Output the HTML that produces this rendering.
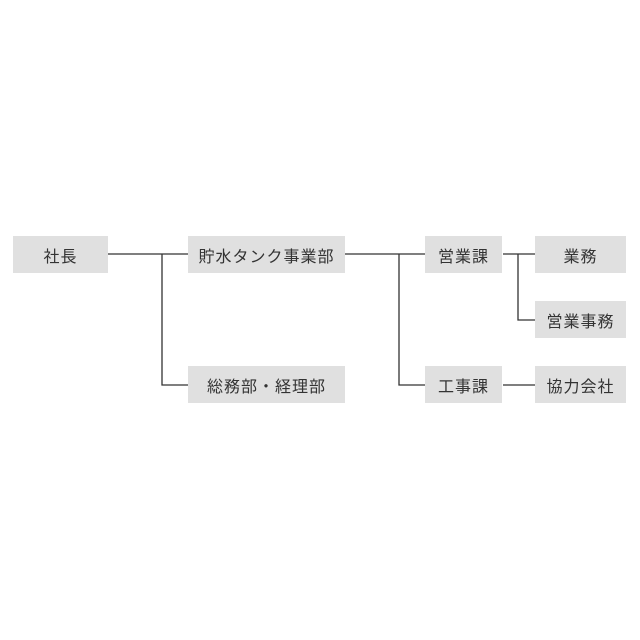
<!DOCTYPE html>
<html><head><meta charset="utf-8"><style>
html,body{margin:0;padding:0;background:#fff;width:640px;height:640px;overflow:hidden}
.b{position:absolute;background:#e0e0e0;color:#333;font:16px "Liberation Sans","Noto Sans CJK JP",sans-serif;display:flex;align-items:center;justify-content:center;letter-spacing:1px}
svg{position:absolute;left:0;top:0}
</style></head><body>
<svg width="640" height="640"><g stroke="#333" stroke-width="1.3" fill="none">
<path d="M108 254H188M162 254V385H188"/>
<path d="M345 254H425M399 254V385H425"/>
<path d="M503 254H535M518 254V320H535"/>
<path d="M503 385H535"/>
</g></svg>
<div class="b" style="left:13px;top:236px;width:95px;height:37px">社長</div>
<div class="b" style="left:188px;top:236px;width:157px;height:37px">貯水タンク事業部</div>
<div class="b" style="left:188px;top:366px;width:157px;height:37px">総務部・経理部</div>
<div class="b" style="left:425px;top:236px;width:77px;height:37px">営業課</div>
<div class="b" style="left:425px;top:366px;width:77px;height:37px">工事課</div>
<div class="b" style="left:535px;top:236px;width:91px;height:37px">業務</div>
<div class="b" style="left:535px;top:301px;width:91px;height:37px">営業事務</div>
<div class="b" style="left:535px;top:366px;width:91px;height:37px">協力会社</div>
</body></html>
